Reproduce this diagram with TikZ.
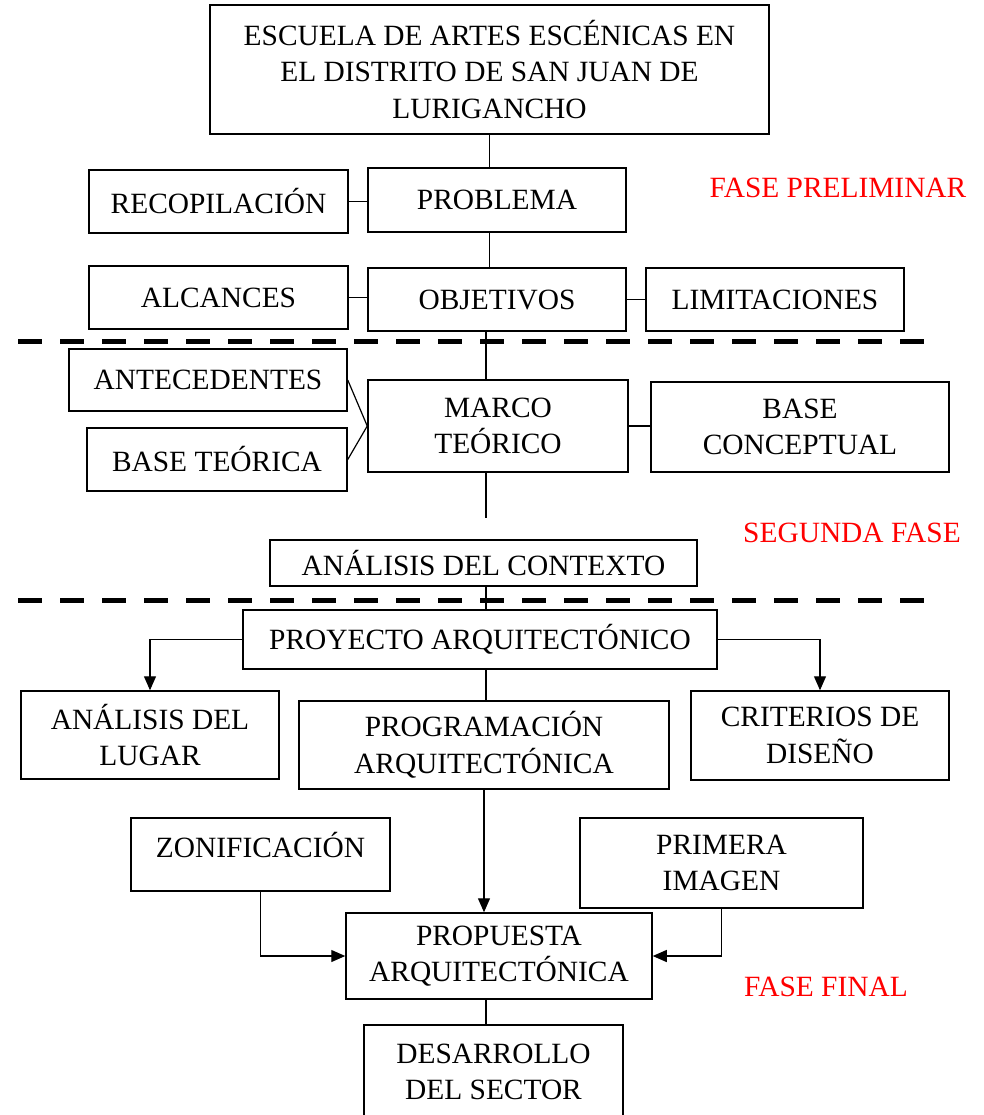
\documentclass[tikz,border=0pt]{standalone}
\usepackage{fontspec}
\setmainfont{Liberation Serif}
\usetikzlibrary{arrows.meta}

\tikzset{
	caja/.style={draw, line width=0.75pt, align=center, inner sep=2pt,
		font=\fontsize{14.7}{18.3}\selectfont},
	fase/.style={red, font=\fontsize{14.7}{18.3}\selectfont},
	union/.style={line width=0.6pt},
	flecha/.style={line width=0.6pt, -{Triangle[length=7pt,width=6pt]}},
	corte/.style={line width=2.5pt, dash pattern=on 12pt off 9pt}
}

\begin{document}
\begin{tikzpicture}[x=0.5pt, y=-0.5pt]
	\clip (0,0) rectangle (984,1115);
	
	% Fase preliminar
	\node[caja, minimum width=279.5pt, minimum height=64.5pt] (titulo) at (489.5,69.5)
		{ESCUELA DE ARTES ESCÉNICAS EN\\EL DISTRITO DE SAN JUAN DE\\LURIGANCHO};
	\node[caja, minimum width=129.5pt, minimum height=31.5pt] (recop) at (218.5,201.5) {RECOPILACIÓN};
	\node[caja, minimum width=129pt, minimum height=32pt] (problema) at (497,200) {PROBLEMA};
	\node[caja, minimum width=129.5pt, minimum height=31.5pt] (alcances) at (218.5,297.5) {ALCANCES};
	\node[caja, minimum width=129pt, minimum height=31.5pt] (objetivos) at (497,299.5) {OBJETIVOS};
	\node[caja, minimum width=129pt, minimum height=31.5pt] (limit) at (775,299.5) {LIMITACIONES};
	\node[fase] (fase1) at (838,188) {FASE PRELIMINAR};
	
	% Segunda fase
	\node[caja, minimum width=139pt, minimum height=31pt] (antec) at (208,380) {ANTECEDENTES};
	\node[caja, minimum width=130pt, minimum height=31.5pt] (baseteo) at (217,459.5) {BASE TEÓRICA};
	\node[caja, minimum width=130pt, minimum height=46pt] (marco) at (498,426) {MARCO\\TEÓRICO};
	\node[caja, minimum width=149pt, minimum height=45pt] (baseconc) at (800,427) {BASE\\CONCEPTUAL};
	\node[caja, minimum width=213.5pt, minimum height=23pt] (contexto) at (483.5,563) {ANÁLISIS DEL CONTEXTO};
	\node[fase] (fase2) at (852,533) {SEGUNDA FASE};
	\coordinate (finmarco) at (486,518);
	
	% Fase final
	\node[caja, minimum width=237pt, minimum height=29.5pt] (proyecto) at (480,639.5) {PROYECTO ARQUITECTÓNICO};
	\node[caja, minimum width=129pt, minimum height=44pt] (lugar) at (150,735) {ANÁLISIS DEL\\LUGAR};
	\node[caja, minimum width=185pt, minimum height=44pt] (program) at (484,745) {PROGRAMACIÓN\\ARQUITECTÓNICA};
	\node[caja, minimum width=129pt, minimum height=44.5pt] (criterios) at (820,735.5) {CRITERIOS DE\\DISEÑO};
	\node[caja, minimum width=129.5pt, text height=16.5pt, text depth=14pt, inner ysep=3pt] (zonif) at (260.5,854.5) {ZONIFICACIÓN};
	\node[caja, minimum width=141.5pt, minimum height=45pt] (primera) at (721.5,863) {PRIMERA\\IMAGEN};
	\node[caja, minimum width=153pt, minimum height=43pt] (propuesta) at (499,956) {PROPUESTA\\ARQUITECTÓNICA};
	\node[caja, minimum width=129.5pt, minimum height=47pt] (desarrollo) at (493.5,1072) {DESARROLLO\\DEL SECTOR};
	\node[fase] (fase3) at (826,987) {FASE FINAL};
	
	% Lignes de coupure
	\draw[corte] (18,341) -- (925,341);
	\draw[corte] (18,600) -- (925,600);
	
	% Liaisons
	\draw[union] (titulo.south) -- (titulo.south |- problema.north);
	\draw[union] (recop.east) -- (recop.east -| problema.west);
	\draw[union] (titulo.south |- problema.south) -- (titulo.south |- objetivos.north);
	\draw[union] (alcances.east) -- (alcances.east -| objetivos.west);
	\draw[union] (objetivos.east) -- (limit.west);
	\draw[union] (objetivos.south -| finmarco) -- (marco.north -| finmarco);
	\draw[union] (antec.east) -- (marco.west);
	\draw[union] (baseteo.east) -- (marco.west);
	\draw[union] (marco.east) -- (marco.east -| baseconc.west);
	\draw[union] (marco.south -| finmarco) -- (finmarco);
	\draw[union] (contexto.south -| finmarco) -- (proyecto.north -| finmarco);
	\draw[flecha] (proyecto.west) -| (lugar.north);
	\draw[flecha] (proyecto.east) -| (criterios.north);
	\draw[union] (proyecto.south -| finmarco) -- (program.north -| finmarco);
	\draw[flecha] (program.south) -- (program.south |- propuesta.north);
	\draw[flecha] (zonif.south) |- (propuesta.west);
	\draw[flecha] (primera.south) |- (propuesta.east);
	\draw[union] (propuesta.south -| finmarco) -- (desarrollo.north -| finmarco);
\end{tikzpicture}
\end{document}
